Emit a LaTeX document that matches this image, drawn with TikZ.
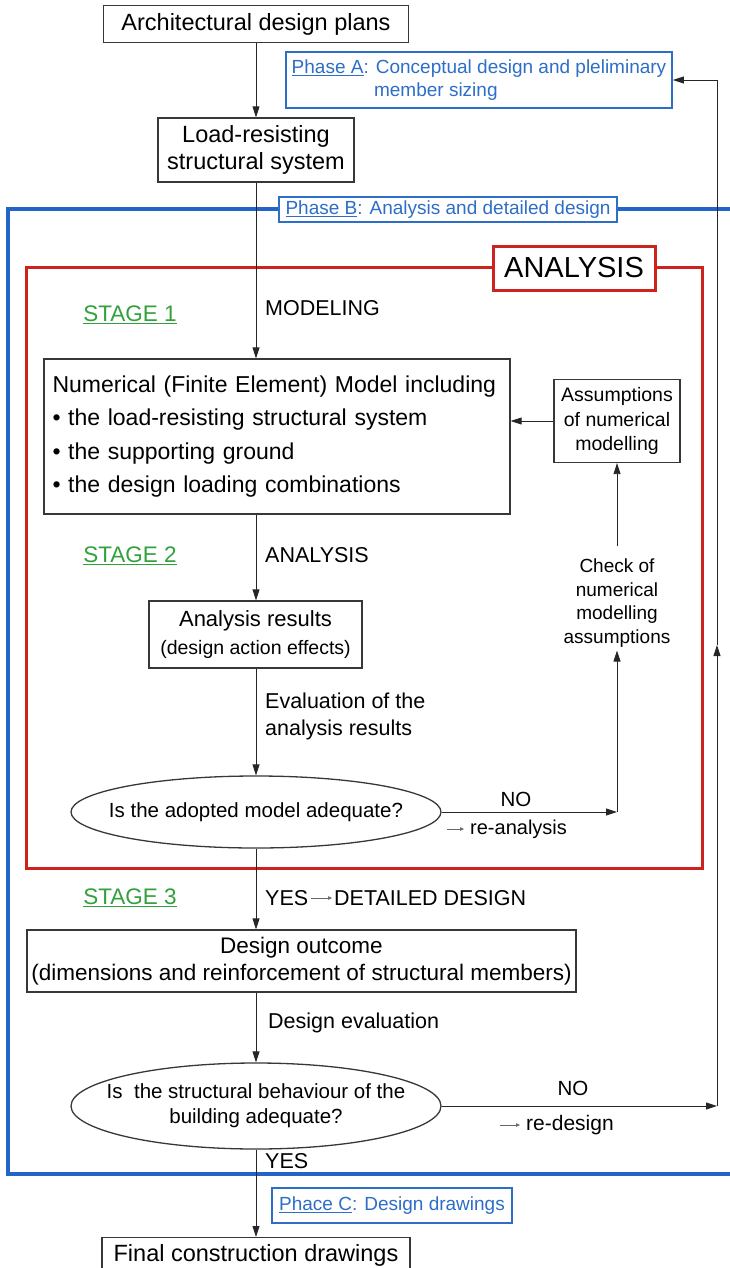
\documentclass[tikz,border=0pt]{standalone}
\usepackage{fontspec}
\setmainfont{Liberation Sans}
\usetikzlibrary{arrows.meta,shapes.geometric,calc}
\definecolor{pblue}{RGB}{45,110,200}
\definecolor{fblue}{RGB}{35,100,200}
\definecolor{fred}{RGB}{205,35,30}
\definecolor{sgreen}{RGB}{50,160,60}
\definecolor{bgray}{RGB}{55,55,55}
\newcommand{\fs}[2]{\fontsize{#1}{#2}\selectfont}
\begin{document}
\begin{tikzpicture}[x=1pt,y=-1pt,
  box/.style={draw=bgray, line width=1.3pt, inner sep=0pt, align=center},
  arr/.style={draw=black!85, line width=0.9pt, -{Triangle[length=11pt,width=7pt]}},
  sarr/.style={draw=black!60, line width=0.6pt, -{Triangle[length=4pt,width=3.5pt]}},
  ln/.style={draw=black!85, line width=0.9pt},
  lbl/.style={inner sep=0pt, anchor=west, align=left},
  stg/.style={inner sep=0pt, text=sgreen, font=\fs{22.5}{27}},
  phase/.style={draw=pblue, line width=1.8pt, text=pblue, inner sep=0pt, fill=white},
  ell/.style={draw=bgray, line width=1.3pt, ellipse, inner xsep=-22pt, inner ysep=0pt, align=center},
]
\useasboundingbox (0,0) rectangle (730,1268);

% frames
\draw[fblue, line width=3.5pt] (8,209) rectangle (745,1174);
\draw[fred, line width=3pt] (26,267) rectangle (702,868);

% nodes
\node[box, minimum width=305pt, minimum height=37pt, font=\fs{23.5}{28}] (arch) at (256,24) {Architectural design plans};
\node[phase, minimum width=386pt, minimum height=56pt, font=\fs{19}{22.5}, align=left] (phA) at (479,80)
  {\underline{Phase A}: Conceptual design and pleliminary\\\phantom{Phase A: }member sizing};
\node[box, minimum width=196pt, minimum height=64pt, font=\fs{23.5}{27}] (load) at (256,150) {Load-resisting\\structural system};
\node[phase, minimum width=338pt, minimum height=25pt, font=\fs{19}{22}] (phB) at (448,209.5) {\underline{Phase B}: Analysis and detailed design};
\node[fill=white, draw=fred, line width=3pt, minimum width=162pt, minimum height=44pt, font=\fs{29}{33}, inner sep=0pt] (anl) at (574,268) {ANALYSIS};

\node[stg] (s1) at (130,315) {\underline{STAGE 1}};
\node[lbl, font=\fs{21.5}{26}] (mod) at (265,308) {MODELING};

\node[box, minimum width=466pt, minimum height=155pt, text width=449pt, align=left, font=\fs{23}{33.3}] (num) at (277,436.5)
  {Numerical (Finite Element) Model including\\• the load-resisting structural system\\• the supporting ground\\• the design loading combinations};
\node[box, minimum width=126pt, minimum height=83pt, font=\fs{19.5}{24.5}] (asm) at (617,421) {Assumptions\\of numerical\\modelling};

\node[stg] (s2) at (130,556) {\underline{STAGE 2}};
\node[lbl, font=\fs{21.5}{26}] (anlab) at (265,555) {ANALYSIS};

\node[box, minimum width=213pt, minimum height=67pt, font=\fs{22}{28}] (res) at (255.5,634.5)
  {Analysis results\\{\fs{19.5}{28}(design action effects)}};
\node[inner sep=0pt, align=center, font=\fs{19}{23.7}] (chk) at (617,603) {Check of\\numerical\\modelling\\assumptions};

\node[lbl, font=\fs{21.5}{27}] (ev) at (265,716) {Evaluation of the\\analysis results};

\node[ell, minimum width=370pt, minimum height=72pt, font=\fs{20.5}{24}] (q1) at (256,812) {Is the adopted model adequate?};
\node[inner sep=0pt, font=\fs{20.5}{24}] (no1) at (516,799) {NO};
\node[lbl, font=\fs{20}{24}] (rea) at (470,829) {re-analysis};

\node[stg] (s3) at (130,898) {\underline{STAGE 3}};
\node[lbl, font=\fs{21.5}{26}] (yes1) at (265,898) {YES};
\node[lbl, font=\fs{21.5}{26}] (dd) at (334,898) {DETAILED DESIGN};

\node[box, minimum width=549pt, minimum height=62pt, font=\fs{22.5}{27}] (out) at (301.5,961)
  {Design outcome\\(dimensions and reinforcement of structural members)};
\node[lbl, font=\fs{21.5}{26}] (dev) at (268,1023) {Design evaluation};

\node[ell, minimum width=370pt, minimum height=86pt, font=\fs{20.5}{25}] (q2) at (256,1106) {Is\ \ the structural behaviour of the\\building adequate?};
\node[inner sep=0pt, font=\fs{20.5}{24}] (no2) at (573,1088) {NO};
\node[lbl, font=\fs{21}{25}] (rdes) at (526,1125) {re-design};
\node[lbl, font=\fs{21.5}{26}] (yes2) at (265,1161) {YES};

\node[phase, minimum width=240pt, minimum height=35pt, font=\fs{19}{22}] (phC) at (392,1205.5) {\underline{Phace C}: Design drawings};
\node[box, minimum width=308pt, minimum height=35pt, font=\fs{23.5}{28}, anchor=north] (fin) at (256,1237) {Final construction drawings};

% coordinates
\coordinate (rx) at (717,0);
\coordinate (c1) at (chk.south |- q1.east);
\coordinate (c2) at (rx |- q2.east);
\coordinate (mid) at (717,645);
\coordinate (c3) at (rx |- phA.east);

% connectors
\draw[arr] (arch.south) -- (load.north);
\draw[arr] (load.south) -- (load.south |- num.north);
\draw[arr] (load.south |- num.south) -- (res.north -| load.south);
\draw[arr] (res.south -| load.south) -- (q1.north);
\draw[arr] (q1.south) -- (q1.south |- out.north);
\draw[arr] (q1.south |- out.south) -- (q2.north);
\draw[arr] (q2.south) -- (fin.north);
\draw[arr] (asm.west) -- (asm.west -| num.east);
\draw[arr] (q1.east) -- (c1);
\draw[arr] (c1) -- ([yshift=-3pt]chk.south);
\draw[arr] ([yshift=12pt]chk.north) -- (asm.south);
\draw[arr] (q2.east) -- (c2);
\draw[arr] (c2) -- (mid);
\draw[arr] (mid) -- (c3) -- (phA.east);

% small arrows
\draw[sarr] ([xshift=-23pt]rea.west) -- ([xshift=-6pt]rea.west);
\draw[sarr] ([xshift=-26pt]rdes.west) -- ([xshift=-6pt]rdes.west);
\draw[sarr] ([xshift=3pt]yes1.east) -- ([xshift=-2pt]dd.west);
\end{tikzpicture}
\end{document}
